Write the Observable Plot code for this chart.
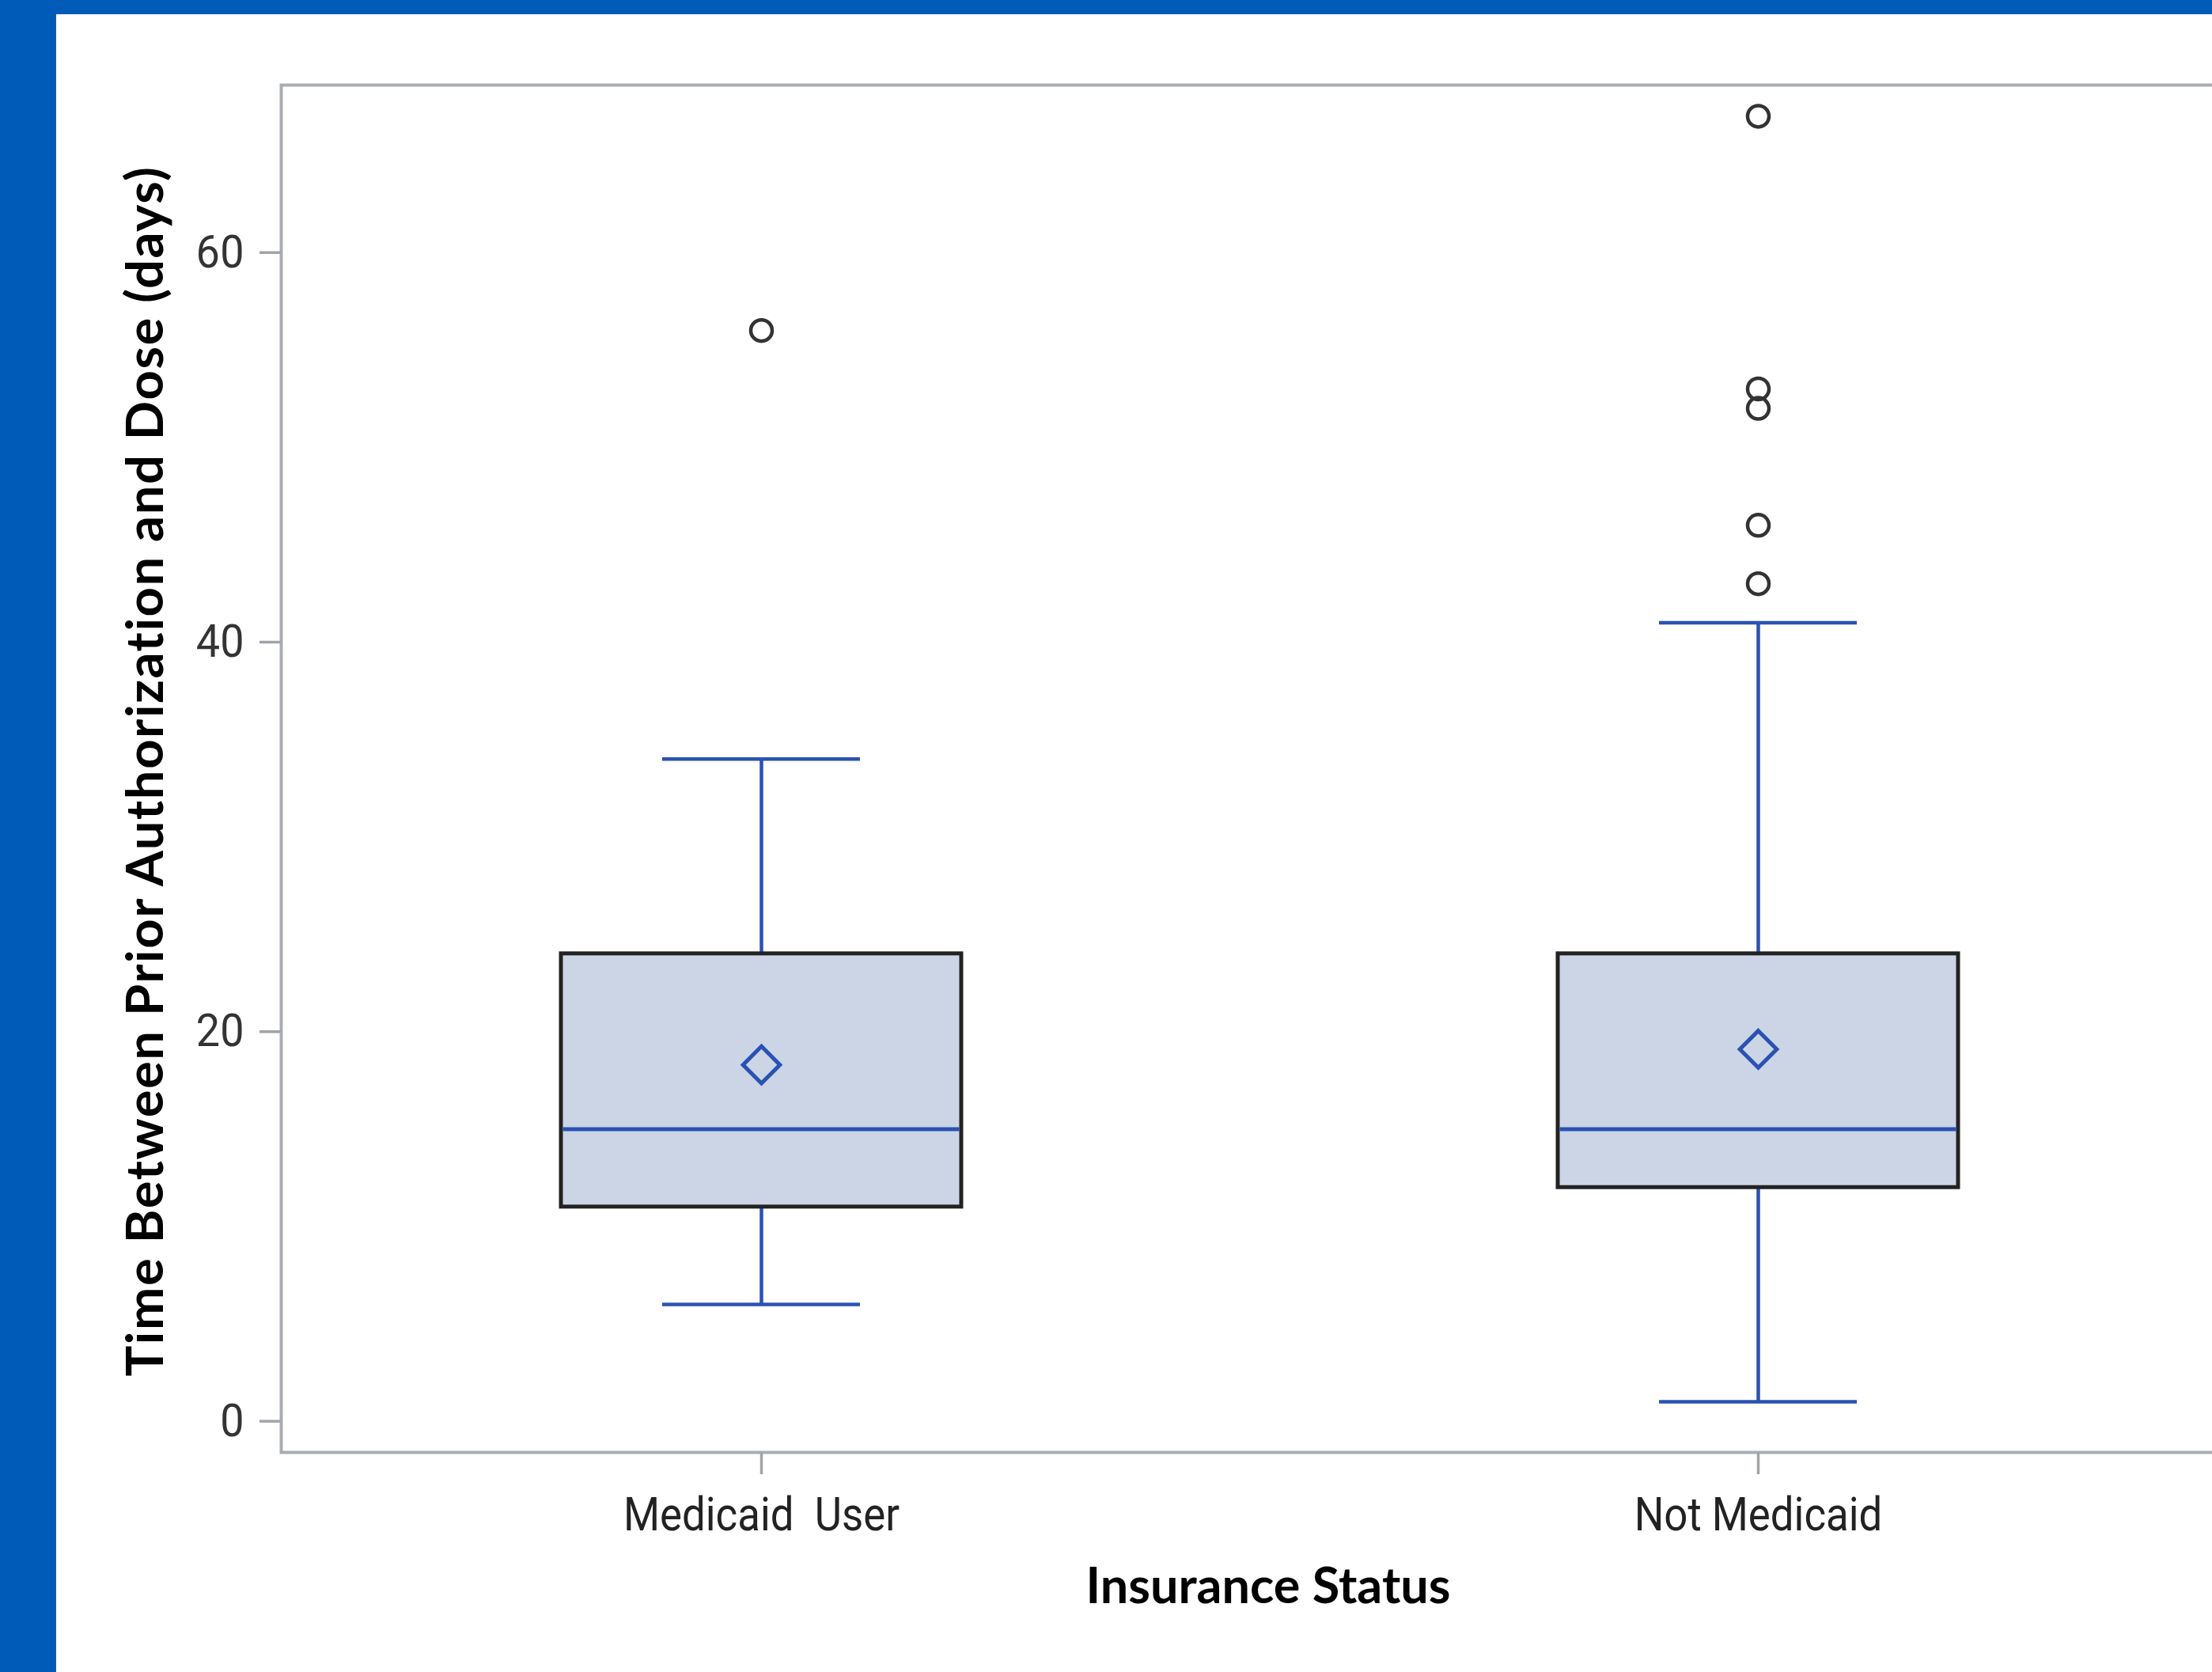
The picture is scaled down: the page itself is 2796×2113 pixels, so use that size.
<!DOCTYPE html>
<html>
<head>
<meta charset="utf-8">
<script src="https://cdn.jsdelivr.net/npm/d3@7"></script>
<script src="https://cdn.jsdelivr.net/npm/@observablehq/plot@0.6"></script>
<style>
  html, body { margin: 0; padding: 0; width: 2796px; height: 2113px; overflow: hidden; background: #005bb8; }
  #panel { position: absolute; left: 71px; top: 18px; right: 0; bottom: 0; background: #ffffff; overflow: hidden; }
  #panel svg { display: block; overflow: visible; max-width: none !important; }
</style>
</head>
<body>
<div id="panel"></div>
<script>
// ---- data ----
const categories = ["Medicaid  User", "Not Medicaid"];
const q1 = [11, 12];
const median = [15, 15];
const q3 = [24, 24];
const mean = [18.3, 19.1];
const whiskerLow = [6, 1];
const whiskerHigh = [34, 41];
const outlierCategory = ["Medicaid  User", "Not Medicaid", "Not Medicaid", "Not Medicaid", "Not Medicaid", "Not Medicaid"];
const outlierValue = [56, 67, 53, 52, 46, 43];
const yTicks = [0, 20, 40, 60];
const xTitle = "Insurance Status";
const yTitle = "Time Between Prior Authorization and Dose (days)";

const stats = categories.map((c, i) => ({
  cat: c, q1: q1[i], median: median[i], q3: q3[i], mean: mean[i], lo: whiskerLow[i], hi: whiskerHigh[i]
}));
const outliers = outlierCategory.map((c, i) => ({cat: c, value: outlierValue[i]}));

const blue = "#2a52b3";
const tickFont = "Roboto, 'Liberation Sans', sans-serif";
const chart = Plot.plot({
  width: 2757,
  height: 2095,
  marginLeft: 284,
  marginRight: 0,
  marginTop: 89,
  marginBottom: 278,
  style: {fontFamily: tickFont, background: "transparent", maxWidth: "none"},
  x: {type: "band", domain: categories, paddingInner: 0.5987, paddingOuter: 0.28, label: null},
  y: {domain: [-1.6, 68.6], label: null},
  marks: [
    Plot.frame({stroke: "#a9adb1", strokeWidth: 4}),
    Plot.axisY({ticks: yTicks, tickSize: 27, tickPadding: 20, fontSize: 58, stroke: "#a0a4a8", strokeWidth: 3.5, fill: "#333", label: null}),
    Plot.axisX({tickSize: 28, tickPadding: 28, fontSize: 60, stroke: "#a0a4a8", strokeWidth: 3.5, fill: "#222", label: null}),
    Plot.ruleX(stats, {x: "cat", y1: "lo", y2: "q1", stroke: blue, strokeWidth: 4.5}),
    Plot.ruleX(stats, {x: "cat", y1: "q3", y2: "hi", stroke: blue, strokeWidth: 4.5}),
    Plot.tickY(stats, {x: "cat", y: "lo", stroke: blue, strokeWidth: 4.5, insetLeft: 128, insetRight: 128}),
    Plot.tickY(stats, {x: "cat", y: "hi", stroke: blue, strokeWidth: 4.5, insetLeft: 128, insetRight: 128}),
    Plot.barY(stats, {x: "cat", y1: "q1", y2: "q3", fill: "#cbd5e6", stroke: "#222", strokeWidth: 5}),
    Plot.tickY(stats, {x: "cat", y: "median", stroke: blue, strokeWidth: 5, insetLeft: 2.5, insetRight: 2.5}),
    Plot.dot(stats, {x: "cat", y: "mean", symbol: "diamond2", r: 21, stroke: blue, strokeWidth: 5, fill: "none"}),
    Plot.dot(outliers, {x: "cat", y: "value", r: 13.5, stroke: "#333", strokeWidth: 4.5, fill: "none"}),
    Plot.text([xTitle], {frameAnchor: "bottom", lineAnchor: "middle", textAnchor: "middle", dx: 11, dy: 170, fontSize: 63, fontWeight: "bold", fontFamily: "Lato", fill: "#000"}),
    Plot.text([yTitle], {frameAnchor: "left", lineAnchor: "middle", textAnchor: "middle", rotate: -90, dx: -170, dy: 3, fontSize: 65, fontWeight: "bold", fontFamily: "Lato", fill: "#000"})
  ]
});
// condense the tick labels horizontally, like the narrow face of the original
d3.select(chart).select("g[aria-label='y-axis tick label']").selectAll("text").each(function() {
  const t = this.getAttribute("transform") || "";
  this.setAttribute("transform", t + " scale(0.93,1)");
});
d3.select(chart).select("g[aria-label='x-axis tick label']").selectAll("text").each(function() {
  const t = this.getAttribute("transform") || "";
  this.setAttribute("transform", t + " scale(0.88,1)");
});
d3.select(chart).selectAll("g[aria-label='text'] text").filter(function() { return this.textContent === yTitle; })
  .style("letter-spacing", "1.6px");
document.getElementById("panel").appendChild(chart);
</script>
</body>
</html>
